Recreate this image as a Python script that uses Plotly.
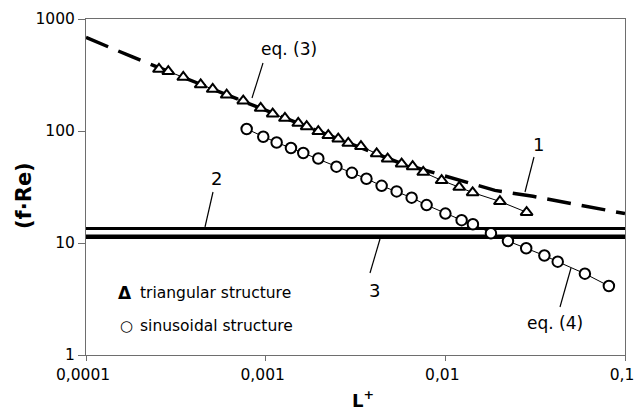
import plotly.graph_objects as go

# ---------------- data ----------------
tri_x = [2.548e-4, 2.871e-4, 3.479e-4, 4.348e-4, 5.072e-4, 6.067e-4, 7.503e-4, 9.38e-4,
         1.094e-3, 1.28e-3, 1.518e-3, 1.691e-3, 1.963e-3, 2.231e-3, 2.535e-3, 2.882e-3,
         3.391e-3, 4.147e-3, 4.774e-3, 5.711e-3, 6.577e-3, 7.534e-3, 9.537e-3, 1.195e-2,
         1.419e-2, 2.013e-2, 2.834e-2]
tri_y = [356, 340, 302, 259, 236, 210, 186, 160, 142.5, 130, 117.5, 109.7, 99, 91.2, 85.2,
         77.8, 72.8, 62.7, 56.5, 50.9, 48.2, 42.9, 36.2, 31.5, 28.2, 23.5, 18.8]

sin_x = [7.838e-4, 9.696e-4, 1.151e-3, 1.383e-3, 1.619e-3, 1.963e-3, 2.477e-3, 3.02e-3,
         3.638e-3, 4.42e-3, 5.358e-3, 6.494e-3, 7.865e-3, 1.001e-2, 1.232e-2, 1.424e-2,
         1.794e-2, 2.231e-2, 2.819e-2, 3.559e-2, 4.222e-2, 5.981e-2, 8.134e-2]
sin_y = [104.2, 88.9, 78.9, 70.5, 63.6, 56.8, 48.0, 42.3, 37.5, 32.4, 28.9, 25.4, 21.8,
         18.3, 16.0, 14.7, 12.2, 10.4, 8.97, 7.73, 6.81, 5.32, 4.13]

# curve 1 (dashed)
c1_x = [1e-4, 1.815e-4, 4.309e-4, 1.552e-3, 5.59e-3, 1.888e-2, 3.073e-2, 8.134e-2, 0.1]
c1_y = [684, 458, 262.8, 115.5, 51.8, 29.5, 26.1, 19.5, 18.3]

# horizontal lines 2 and 3
line_x = [1e-4, 0.1]
c2_val = 13.5
c3_val = 11.4

x_ticks = [1e-4, 1e-3, 1e-2, 1e-1]
x_ticktext = ["0,0001", "0,001", "0,01", "0,1"]
y_ticks = [1, 10, 100, 1000]
y_ticktext = ["1", "10", "100", "1000"]

# ---------------- layout helpers ----------------
W, H = 635, 412
L, R, T, B = 86, 625, 19, 355
FONT = "DejaVu Sans"


def px(xp):
    return (xp - L) / (R - L)


def py(yp):
    return (B - yp) / (B - T)


fig = go.Figure()

fig.add_trace(go.Scatter(x=c1_x, y=c1_y, mode="lines",
                         line=dict(color="black", width=3.5, dash="24px,11px"),
                         showlegend=False, hoverinfo="skip"))
fig.add_trace(go.Scatter(x=line_x, y=[c2_val, c2_val], mode="lines",
                         line=dict(color="black", width=3), showlegend=False))
fig.add_trace(go.Scatter(x=line_x, y=[c3_val, c3_val], mode="lines",
                         line=dict(color="black", width=4.5), showlegend=False))

fig.add_trace(go.Scatter(x=tri_x, y=tri_y, mode="lines+markers",
                         name="triangular structure",
                         line=dict(color="black", width=1),
                         marker=dict(symbol="triangle-up", size=10.5, color="white",
                                     line=dict(color="black", width=2)),
                         showlegend=False))
fig.add_trace(go.Scatter(x=sin_x, y=sin_y, mode="lines+markers",
                         name="sinusoidal structure",
                         line=dict(color="black", width=1),
                         marker=dict(symbol="circle", size=10.5, color="white",
                                     line=dict(color="black", width=2)),
                         showlegend=False))

ann = []


def text(xp, yp, s, size=15.5, bold=False, xanchor="center", angle=0):
    ann.append(dict(x=px(xp), y=py(yp), xref="paper", yref="paper", text=s,
                    showarrow=False, xanchor=xanchor, yanchor="middle",
                    textangle=angle,
                    font=dict(family=FONT, size=size, color="black",
                              weight="bold" if bold else "normal")))


text(289, 49, "eq. (3)", 17)
text(555, 323, "eq. (4)", 17)
text(538, 144, "1", 18)
text(216, 178, "2", 18)
text(374, 290, "3", 18)

# legend
text(125, 293, "<b>Δ</b>", 17)
text(138, 293, "triangular structure", 15.5, xanchor="left")
text(126, 326, "○", 15)
text(138, 326, "sinusoidal structure", 15.5, xanchor="left")

# axis titles
text(363, 399, "L<sup>+</sup>", 18, bold=True)
text(24, 196, "(f·Re)", 21, bold=True, angle=-90)

shapes = []
for (x0, y0, x1, y1) in [(263, 63, 252, 98), (534, 157, 525, 192), (213, 192, 205, 227),
                         (370, 273, 380, 239), (560, 307, 571, 268)]:
    shapes.append(dict(type="line", xref="paper", yref="paper",
                       x0=px(x0), y0=py(y0), x1=px(x1), y1=py(y1),
                       line=dict(color="black", width=1.2)))

axcol = "#6e6e6e"
fig.update_layout(
    width=W, height=H,
    margin=dict(l=L, r=W - R, t=T, b=H - B, pad=0, autoexpand=False),
    paper_bgcolor="white", plot_bgcolor="white",
    font=dict(family=FONT, size=15.5, color="black"),
    annotations=ann, shapes=shapes, showlegend=False,
    xaxis=dict(type="log", range=[-4, -1], tickvals=x_ticks, ticktext=x_ticktext,
               showgrid=False, zeroline=False, showline=True, mirror=True,
               linecolor=axcol, linewidth=1, ticks="outside", ticklen=5,
               tickcolor=axcol, ticklabeloverflow="allow", automargin=False,
               ticklabelshift=-3,
               tickfont=dict(size=15.5, color="black")),
    yaxis=dict(type="log", range=[0, 3], tickvals=y_ticks, ticktext=y_ticktext,
               showgrid=False, zeroline=False, showline=True, mirror=True,
               linecolor=axcol, linewidth=1, ticks="outside", ticklen=7,
               tickcolor=axcol, automargin=False,
               tickfont=dict(size=15.5, color="black")),
)

fig.write_html("out.html")
